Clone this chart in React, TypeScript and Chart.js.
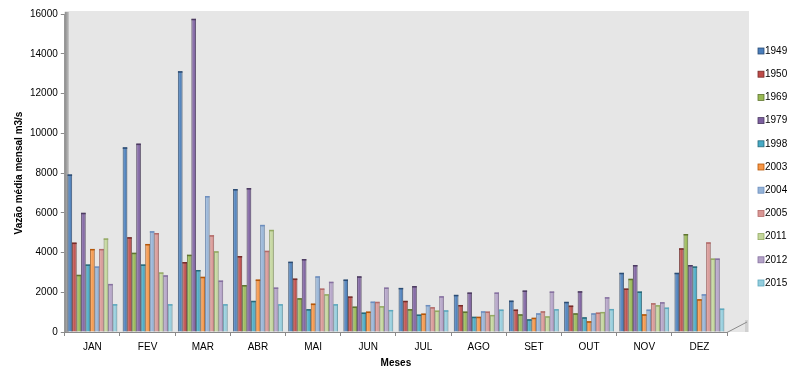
import { useEffect, useRef } from "react";
import { Chart, registerables } from "chart.js";
Chart.register(...registerables);

const months = ["JAN", "FEV", "MAR", "ABR", "MAI", "JUN", "JUL", "AGO", "SET", "OUT", "NOV", "DEZ"];
const yTicks = [0, 2000, 4000, 6000, 8000, 10000, 12000, 14000, 16000];

const years = ["1949", "1950", "1969", "1979", "1998", "2003", "2004", "2005", "2011", "2012", "2015"];
const v1949 = [7930, 9290, 13120, 7190, 3540, 2640, 2220, 1870, 1580, 1520, 2980, 2980];
const v1950 = [4500, 4770, 3520, 3820, 2690, 1790, 1570, 1360, 1130, 1330, 2190, 4210];
const v1969 = [2880, 3990, 3890, 2360, 1700, 1280, 1150, 1030, 890, 940, 2680, 4930];
const v1979 = [6000, 9480, 15760, 7240, 3670, 2800, 2310, 1990, 2090, 2050, 3370, 3370];
const v1998 = [3400, 3400, 3120, 1570, 1150, 980, 880, 770, 640, 740, 2040, 3300];
const v2003 = [4180, 4430, 2780, 2640, 1430, 1030, 930, 770, 720, 540, 890, 1650];
const v2004 = [3300, 5070, 6840, 5390, 2800, 1530, 1360, 1040, 940, 940, 1130, 1900];
const v2005 = [4180, 4980, 4870, 4090, 2190, 1520, 1250, 1030, 1040, 980, 1450, 4510];
const v2011 = [4710, 3000, 4060, 5140, 1900, 1300, 1080, 860, 790, 1010, 1350, 3700];
const v2012 = [2420, 2850, 2590, 2240, 2530, 2240, 1800, 1990, 2040, 1750, 1500, 3700];
const v2015 = [1400, 1400, 1400, 1400, 1400, 1110, 1090, 1130, 1150, 1160, 1230, 1180];
const seriesValues = [v1949, v1950, v1969, v1979, v1998, v2003, v2004, v2005, v2011, v2012, v2015];

const fills = ["#4A7EBB", "#BE4B48", "#98B954", "#7D60A0", "#46AAC5", "#F79646", "#95B3D7", "#D99694", "#C3D69B", "#B3A2C7", "#93CDDD"];
const edges = ["#2C4D75", "#772C2A", "#5F7530", "#4D3B62", "#276A7C", "#B65708", "#6C8EBF", "#B46B69", "#94AB62", "#8771A1", "#5DA9BF"];

const FONT = "'Liberation Sans Narrow', 'Liberation Sans', Arial, sans-serif";

const bgPlugin = {
  id: "bg3d",
  beforeDatasetsDraw(chart: any) {
    const { ctx, chartArea } = chart;
    const { left, right, top, bottom } = chartArea;
    ctx.save();
    ctx.fillStyle = "#E6E6E6";
    ctx.fillRect(left, top - 3, right - left + 22, bottom - top + 3);
    const g = ctx.createLinearGradient(left, 0, left + 4, 0);
    g.addColorStop(0, "#8C8C8C");
    g.addColorStop(1, "#BDBDBD");
    ctx.fillStyle = g;
    ctx.fillRect(left, top - 2, 4, bottom - top + 2);
    ctx.fillStyle = "#D0D0D0";
    ctx.fillRect(right + 18, bottom - 12, 3, 12);
    ctx.restore();
  },
  afterDatasetsDraw(chart: any) {
    const { ctx } = chart;
    ctx.save();
    chart.data.datasets.forEach((_: any, di: number) => {
      const meta = chart.getDatasetMeta(di);
      meta.data.forEach((bar: any) => {
        const w = bar.width;
        const x0 = bar.x - w / 2;
        const h = bar.base - bar.y;
        const g = ctx.createLinearGradient(x0, 0, x0 + w, 0);
        g.addColorStop(0, "rgba(0,0,0,0.18)");
        g.addColorStop(0.3, "rgba(255,255,255,0.18)");
        g.addColorStop(0.6, "rgba(255,255,255,0.05)");
        g.addColorStop(1, "rgba(0,0,0,0.22)");
        ctx.fillStyle = g;
        ctx.fillRect(x0, bar.y, w, h);
        ctx.fillStyle = edges[di];
        ctx.fillRect(x0, bar.y, w, 1.5);
      });
    });
    const { chartArea } = chart;
    ctx.strokeStyle = "#8A8A8A";
    ctx.lineWidth = 1;
    ctx.beginPath();
    ctx.moveTo(chartArea.right, chartArea.bottom + 0.5);
    ctx.lineTo(chartArea.right + 20, chartArea.bottom - 10);
    ctx.stroke();
    ctx.restore();
  },
};

const legendPlugin = {
  id: "customLegend",
  afterDraw(chart: any) {
    const { ctx } = chart;
    ctx.save();
    ctx.font = `10px ${FONT}`;
    ctx.textBaseline = "middle";
    ctx.textAlign = "left";
    years.forEach((yr, i) => {
      const y = 51 + i * 23.2;
      ctx.fillStyle = fills[i];
      ctx.fillRect(758, y - 3, 6, 6);
      ctx.strokeStyle = edges[i];
      ctx.lineWidth = 0.8;
      ctx.strokeRect(758, y - 3, 6, 6);
      ctx.fillStyle = "#000";
      ctx.fillText(yr, 765, y);
    });
    ctx.restore();
  },
};

export default function App() {
  const ref = useRef<HTMLCanvasElement>(null);
  useEffect(() => {
    if (!ref.current) return;
    const chart = new Chart(ref.current, {
      type: "bar",
      data: {
        labels: months,
        datasets: years.map((yr, i) => ({
          label: yr,
          data: seriesValues[i],
          backgroundColor: fills[i],
          borderColor: edges[i],
          borderWidth: 0.8,
          categoryPercentage: 0.9,
          barPercentage: 1.0,
        })),
      },
      options: {
        animation: false,
        responsive: true,
        maintainAspectRatio: false,
        layout: { padding: { top: 14, right: 75, bottom: 9, left: 13 } },
        plugins: { legend: { display: false }, tooltip: { enabled: false } },
        scales: {
          x: {
            grid: { display: true, drawOnChartArea: false, drawTicks: true, tickLength: 4, color: "#8A8A8A", offset: true },
            border: { display: true, color: "#8A8A8A" },
            ticks: { color: "#000", font: { family: FONT, size: 10, lineHeight: 1 }, padding: 6 },
            title: { display: true, text: "Meses", color: "#000", font: { family: FONT, size: 10, weight: "bold" }, padding: { top: -1, bottom: 0 } },
          },
          y: {
            min: 0,
            max: 16000,
            afterBuildTicks: (axis: any) => {
              axis.ticks = yTicks.map((v) => ({ value: v }));
            },
            grid: { display: true, drawOnChartArea: false, drawTicks: true, tickLength: 4, color: "#8A8A8A" },
            border: { display: true, color: "#8A8A8A" },
            ticks: { color: "#000", font: { family: FONT, size: 10 }, padding: 3, callback: (v: any) => String(v) },
            title: { display: true, text: "Vazão média mensal m3/s", color: "#000", font: { family: FONT, size: 10, weight: "bold" }, padding: { top: 0, bottom: 2 } },
          },
        },
      },
      plugins: [bgPlugin, legendPlugin],
    });
    return () => chart.destroy();
  }, []);
  return (
    <div style={{ position: "fixed", left: 0, top: 0, width: 802, height: 378, background: "#fff" }}>
      <canvas ref={ref} />
    </div>
  );
}
